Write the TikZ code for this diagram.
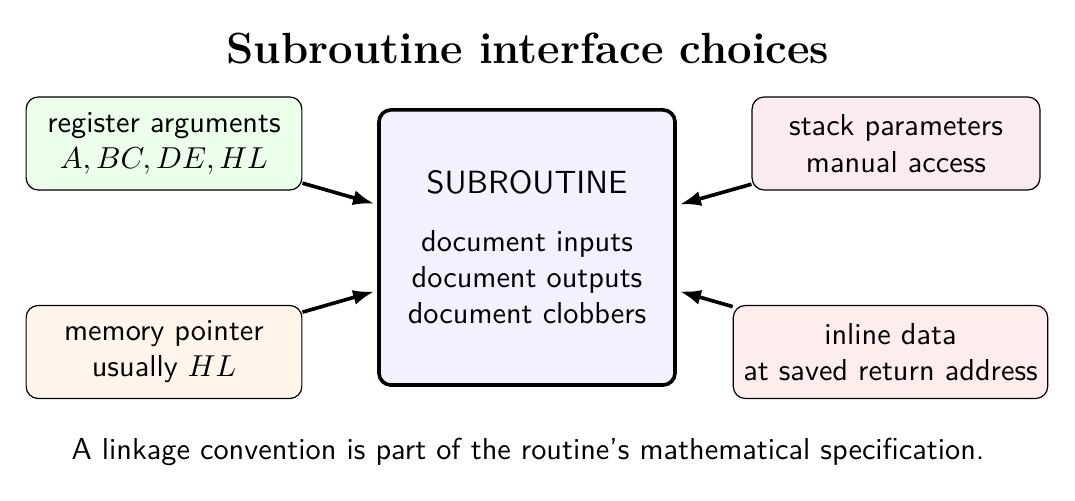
\documentclass[tikz,border=0pt]{standalone}
\usetikzlibrary{arrows.meta}
\begin{document}
\begin{tikzpicture}[x=0.33pt,y=-0.33pt,
  side/.style={draw, thin, rounded corners=4pt, align=center, font=\sffamily,
    minimum width=91pt, minimum height=30.7pt, inner xsep=3.3pt, inner ysep=4.5pt},
  core/.style={draw, very thick, rounded corners=4pt, align=center, font=\sffamily,
    minimum width=97.7pt, minimum height=90.8pt, fill=blue!5},
  link/.style={very thick, -{Latex[length=7pt,width=5pt]}, shorten >=1pt}]
\useasboundingbox (0,0) rectangle (1075,501);
\node[font=\bfseries\Large] (title) at (528,48) {Subroutine interface choices};
\node[core] (sub) at (527,247.5) {{\fontsize{10.6pt}{13pt}\selectfont SUBROUTINE}\\[7pt] document inputs\\ document outputs\\ document clobbers};
\node[side, fill=green!8] (reg) at (164,143.5) {register arguments\\ $A, BC, DE, HL$};
\node[side, fill=orange!8] (mem) at (164,352) {memory pointer\\ usually $HL$};
\node[side, fill=purple!8, minimum width=95pt] (stk) at (896,143.5) {stack parameters\\ manual access};
\node[side, fill=red!7] (inl) at (890.5,352) {inline data\\ at saved return address};
\node[font=\sffamily] (cap) at (528,452) {A linkage convention is part of the routine's mathematical specification.};
\draw[link] (reg) -- (sub);
\draw[link] (mem) -- (sub);
\draw[link] (stk) -- (sub);
\draw[link] (inl) -- (sub);
\end{tikzpicture}
\end{document}
